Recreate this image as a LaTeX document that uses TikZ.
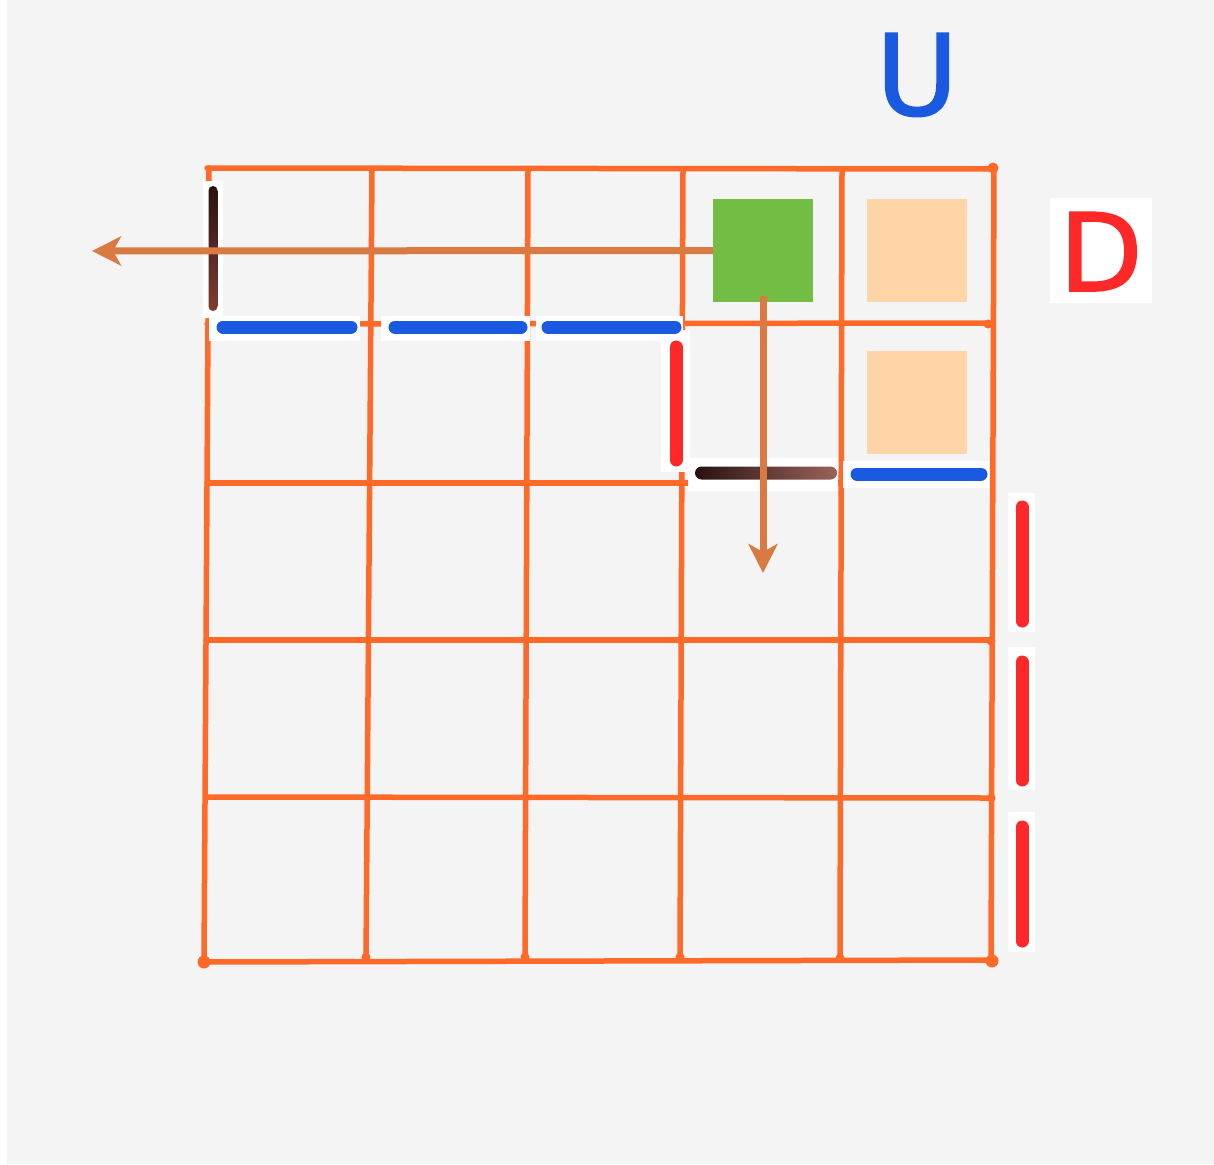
\documentclass[tikz,border=0pt]{standalone}
\usepackage{fontspec}
\newfontfamily\handfont[FakeBold=1.6]{DejaVu Sans}
\usetikzlibrary{arrows.meta}
\definecolor{paper}{RGB}{244,244,244}
\definecolor{gridc}{RGB}{255,106,40}
\definecolor{arrc}{RGB}{216,122,66}
\definecolor{mblue}{RGB}{26,90,224}
\definecolor{mred}{RGB}{255,40,40}
\definecolor{mbrownA}{RGB}{40,18,16}
\definecolor{mbrownB}{RGB}{130,60,50}
\definecolor{grn}{RGB}{114,190,68}
\definecolor{peach}{RGB}{255,213,168}
\begin{document}
\begin{tikzpicture}[x=1pt,y=-1pt,
 gridline/.style={draw=gridc,line width=5.5pt,line cap=round},
 gdot/.style={fill=gridc},
 patch/.style={fill=white},
 bluemk/.style={draw=mblue,line width=13pt,line cap=round},
 redmk/.style={draw=mred,line width=13pt,line cap=round},
 arr/.style={draw=arrc,line width=7pt,-{Stealth[length=29pt,width=29pt,inset=8pt]}},
 sq/.style={minimum width=100pt,minimum height=103pt,inner sep=0pt,outer sep=0pt},
 letter/.style={inner sep=0pt,anchor=base}]
\useasboundingbox (0,0) rectangle (1214,1164);
\fill[white] (0,0) rectangle (1214,1164);
\fill[paper] (7,0) rectangle (1214,1164);
% grid
\draw[gridline] (209,168) -- (204,962);
\draw[gridline] (372,170) -- (366,960);
\draw[gridline] (528,170) -- (525,960);
\draw[gridline] (683,170) -- (680,960);
\draw[gridline] (842,170) -- (840,960);
\draw[gridline] (994,168) -- (991,962);
\draw[gridline] (207,168) -- (994,169);
\draw[gridline] (207,324) -- (990,323);
\draw[gridline] (207,483) -- (990,483);
\draw[gridline] (206,640) -- (990,640);
\draw[gridline] (206,797) -- (990,798);
\draw[gridline] (204,962) -- (992,960);
\foreach \p in {(366,957),(525,957),(680,957),(840,958),(988,324),(990,483),(991,641),(991,798)}
  \fill[gdot] \p circle (4.5);
\fill[gdot] (204,962) circle (6.5);
\fill[gdot] (992,961) circle (6.5);
\fill[gdot] (993,168) circle (5.5);
% white patches
\fill[patch] (203,181) rectangle (223,318);
\fill[patch] (209,316) rectangle (360,341);
\fill[patch] (381,316) rectangle (530,341);
\fill[patch] (536,316) rectangle (683,341);
\fill[patch] (661,330) rectangle (690,472);
\fill[patch] (688,458) rectangle (838,491);
\fill[patch] (843,461) rectangle (990,488);
\fill[patch] (1008,493) rectangle (1035,632);
\fill[patch] (1008,647) rectangle (1035,790);
\fill[patch] (1008,812) rectangle (1035,952);
\fill[patch] (1050,198) rectangle (1152,303);
% marker strokes
\shade[top color=mbrownA,bottom color=mbrownB,rounded corners=4.5pt] (208.5,186) rectangle (217.5,311);
\draw[bluemk] (223,327) -- (351,327);
\draw[bluemk] (395,327) -- (521,327);
\draw[bluemk] (548,327) -- (675,327);
\draw[redmk] (676,347) -- (676,460);
\shade[left color=mbrownA,right color=mbrownB!80!white,rounded corners=6.5pt] (695,466.5) rectangle (837,479.5);
\draw[bluemk] (857,474) -- (981,474);
\draw[redmk] (1022,507) -- (1022,621);
\draw[redmk] (1022,662) -- (1022,780);
\draw[redmk] (1022,827) -- (1022,941);
% squares
\node[sq,fill=grn] (g) at (763,250.5) {};
\node[sq,fill=peach] (p1) at (917,250.5) {};
\node[sq,fill=peach] (p2) at (917,402) {};
% arrows
\coordinate (lt) at (92,251);
\coordinate (dn) at (763,573);
\draw[arr] (g.west) -- (lt);
\draw[arr] ([yshift=6pt]g.south) -- (dn);
% letters
\node[letter,text=mblue,font=\handfont\fontsize{112}{112}\selectfont] (u) at (917,115) {U};
\node[letter,text=mred,font=\handfont\fontsize{108}{108}\selectfont] (d) at (1101,291) {D};
\end{tikzpicture}
\end{document}
